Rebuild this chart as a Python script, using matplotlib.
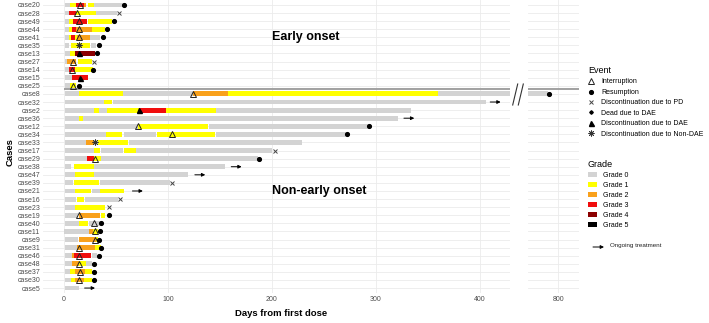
import matplotlib.pyplot as plt
from matplotlib.lines import Line2D
from matplotlib.patches import Patch

plt.rcParams['font.family'] = ['Liberation Sans', 'DejaVu Sans']

N = None  # gap in a bar

cases = ['case20', 'case28', 'case49', 'case44', 'case41', 'case35', 'case13', 'case27',
         'case14', 'case15', 'case25',
         'case8', 'case32', 'case2', 'case36', 'case12', 'case34', 'case33', 'case17',
         'case29', 'case38', 'case47', 'case39', 'case21', 'case16', 'case23', 'case19',
         'case40', 'case11', 'case9', 'case31', 'case46', 'case48', 'case37', 'case30', 'case5']

# segment boundaries (days) and the grade of each segment, one entry per case
bar_edges = [
    [1, 6, 12, 19, 21, 23, 29, 57],
    [1, 5, 12, 31, 51],
    [1, 5, 9, 22, 23, 46],
    [1, 5, 8, 12, 27, 40],
    [1, 5, 7, 11, 13, 25, 35],
    [1, 5, 7, 25, 26, 31],
    [1, 6, 11, 30],
    [1, 3, 12, 14, 27],
    [1, 5, 11, 28],
    [1, 8, 23],
    [1, 6, 12],
    [1, 15, 57, 124, 158, 360, 790],
    [1, 39, 46, 47, 406],
    [1, 29, 34, 42, 72, 98, 146, 334],
    [1, 15, 18, 321],
    [1, 71, 139, 140, 292],
    [1, 41, 56, 58, 89, 90, 145, 146, 271],
    [1, 21, 29, 33, 62, 63, 229],
    [1, 29, 35, 36, 57, 58, 69, 200],
    [1, 22, 29, 36, 187],
    [1, 7, 10, 29, 155],
    [1, 11, 29, 119],
    [1, 9, 10, 34, 35, 102],
    [1, 11, 26, 27, 35, 58],
    [1, 12, 13, 19, 20, 52],
    [1, 11, 40],
    [1, 14, 15, 35, 36, 40],
    [1, 15, 23, 24, 35],
    [0, 24, 28, 33],
    [1, 14, 15, 31, 33],
    [1, 13, 30, 36],
    [1, 8, 10, 26, 27, 32],
    [1, 8, 15, 21, 27],
    [1, 6, 11, 20, 27],
    [1, 7, 11, 19, 27],
    [1, 15],
]
bar_grades = [
    [0, 1, 3, 2, N, 1, 0],
    [0, 3, 1, 0],
    [0, 1, 3, N, 1],
    [0, 1, 3, 2, 1],
    [0, 1, 3, 1, 2, 0],
    [0, N, 1, N, 0],
    [0, 1, 4],
    [0, 2, N, 1],
    [0, 3, 1],
    [0, 3],
    [0, 1],
    [0, 1, 0, 2, 1, 0],
    [0, 1, N, 0],
    [0, 1, 0, 1, 3, 1, 0],
    [0, 1, 0],
    [0, 1, N, 0],
    [0, 1, N, 0, N, 1, N, 0],
    [0, 2, N, 1, N, 0],
    [0, 1, N, 0, N, 1, 0],
    [0, 3, 1, 0],
    [0, N, 1, 0],
    [0, 1, 0],
    [0, N, 1, N, 0],
    [0, 1, N, 0, 1],
    [0, N, 1, N, 0],
    [0, 1],
    [0, N, 2, N, 1],
    [0, 1, N, 0],
    [0, 2, 1],
    [0, N, 2, 1],
    [0, 2, 1],
    [0, 2, 3, N, 0],
    [0, 2, 1, 0],
    [0, 1, 2, 1],
    [0, 1, 2, 1],
    [0],
]

event_case = ['case20', 'case20', 'case28', 'case28', 'case49', 'case49', 'case44', 'case44',
              'case41', 'case41', 'case35', 'case35', 'case13', 'case13', 'case27', 'case27',
              'case14', 'case14', 'case15', 'case25', 'case25', 'case8', 'case8', 'case2',
              'case12', 'case12', 'case34', 'case34', 'case33', 'case17', 'case29', 'case29',
              'case39', 'case16', 'case23', 'case19', 'case19', 'case40', 'case40',
              'case11', 'case11', 'case9', 'case9', 'case31', 'case31', 'case46', 'case46',
              'case48', 'case48', 'case37', 'case37', 'case30', 'case30']
event_day = [16, 58, 13, 53, 15, 48, 15, 42,
             15, 38, 15, 34, 15, 32, 9, 29,
             8, 28, 16, 9, 15, 124, 791, 72,
             71, 293, 104, 272, 30, 203, 30, 188,
             104, 54, 43, 15, 43, 29, 36,
             30, 35, 30, 34, 15, 36, 15, 34,
             15, 29, 16, 29, 15, 29]
event_kind = ['int', 'res', 'int', 'pd', 'int', 'res', 'int', 'res',
              'int', 'res', 'ndae', 'res', 'dae', 'res', 'int', 'pd',
              'int', 'res', 'dae', 'int', 'res', 'int', 'res', 'dae',
              'int', 'res', 'int', 'res', 'ndae', 'pd', 'int', 'res',
              'pd', 'pd', 'pd', 'int', 'res', 'int', 'res',
              'int', 'res', 'int', 'res', 'int', 'res', 'int', 'res',
              'int', 'res', 'int', 'res', 'int', 'res']

ongoing_case = ['case32', 'case36', 'case38', 'case47', 'case21', 'case5']
ongoing_day = [410, 327, 161, 126, 66, 20]

grade_names = ['Grade 0', 'Grade 1', 'Grade 2', 'Grade 3', 'Grade 4', 'Grade 5']
grade_colors = ['#D3D3D3', '#FFFF00', '#F9A11B', '#F00D0D', '#8B0000', '#000000']

event_names = {'int': 'Interruption', 'res': 'Resumption', 'pd': 'Discontinuation due to PD',
               'dead': 'Dead due to DAE', 'dae': 'Discontinuation due to DAE',
               'ndae': 'Discontinuation due to Non-DAE'}
event_style = {
    'int': dict(marker='^', mfc='none', mec='#222222', ms=4.0, mew=0.7),
    'res': dict(marker='o', color='black', ms=2.7),
    'pd': dict(marker='x', color='#444444', ms=3.3, mew=0.7),
    'dead': dict(marker='D', color='black', ms=1.8),
    'dae': dict(marker='^', color='black', ms=3.6),
    'ndae': dict(marker=(8, 2, 0), color='#333333', ms=4.3, mew=0.6),
}

W, H = 709, 323
fig = plt.figure(figsize=(W / 100, H / 100), dpi=100)
top, bottom = 0.1, 292.9
ax = fig.add_axes([43 / W, (H - bottom) / H, (510 - 43) / W, (bottom - top) / H])
ax2 = fig.add_axes([528 / W, (H - bottom) / H, (579 - 528) / W, (bottom - top) / H])

row = {c: i for i, c in enumerate(cases)}
n = len(cases)

for a in (ax, ax2):
    for i, (edges, grades) in enumerate(zip(bar_edges, bar_grades)):
        for j, g in enumerate(grades):
            if g is None:
                continue
            a.barh(i, edges[j + 1] - edges[j], left=edges[j], height=0.6,
                   color=grade_colors[g], linewidth=0, zorder=2)
    for c, d, k in zip(event_case, event_day, event_kind):
        a.plot(d, row[c], linestyle='none', zorder=4, **event_style[k])
    a.hlines(10.45, 0, 1000, color='#9A9A9A', lw=1.3, zorder=3)
    a.set_ylim(n - 1 + 0.6, -0.6)
    a.set_yticks(range(n))
    a.grid(True, color='#EBEBEB', lw=0.6)
    a.set_axisbelow(True)
    for s in a.spines.values():
        s.set_visible(False)
    a.tick_params(length=0, labelsize=5, colors='#4D4D4D', pad=2)

for c, d in zip(ongoing_case, ongoing_day):
    ax.annotate('', xy=(d + 10, row[c]), xytext=(d, row[c]),
                arrowprops=dict(arrowstyle='-|>', color='black', lw=0.7,
                                mutation_scale=5, shrinkA=0, shrinkB=0))

ax.set_xlim(-20, 429)
ax.set_xticks([0, 100, 200, 300, 400])
ax.set_yticklabels(cases)
ax2.set_xlim(771, 820)
ax2.set_xticks([800])
ax2.set_yticklabels([])

ax.text(200, 4.0, 'Early onset', fontsize=9, fontweight='bold', va='center', ha='left')
ax.text(200, 23.0, 'Non-early onset', fontsize=9, fontweight='bold', va='center', ha='left')

fig.text(281 / W, 1 - 313 / H, 'Days from first dose', fontsize=6.8, fontweight='bold',
         ha='center', va='center')
fig.text(10 / W, 1 - 152 / H, 'Cases', fontsize=6.8, fontweight='bold', rotation=90,
         ha='center', va='center')

# axis break marks
for dx in (0, 5.6):
    fig.add_artist(Line2D([(512.7 + dx) / W, (517.7 + dx) / W], [1 - 105 / H, 1 - 84 / H],
                          color='#333333', lw=0.8))

ev_handles = [Line2D([], [], linestyle='none', **event_style[k]) for k in event_names]
fig.legend(ev_handles, list(event_names.values()), title='Event',
           loc='upper left', bbox_to_anchor=(588 / W, 1 - 66 / H), frameon=False,
           fontsize=5, title_fontsize=6.5, handlelength=1.0, handletextpad=0.9,
           labelspacing=0.5, borderaxespad=0, borderpad=0, alignment='left')

gr_handles = [Patch(facecolor=col, edgecolor='none') for col in grade_colors]
fig.legend(gr_handles, grade_names, title='Grade',
           loc='upper left', bbox_to_anchor=(588 / W, 1 - 160 / H), frameon=False,
           fontsize=5, title_fontsize=6.5, handlelength=1.3, handleheight=0.8,
           handletextpad=0.9, labelspacing=0.42, borderaxespad=0, borderpad=0,
           alignment='left')

# ongoing treatment key
fig.add_artist(plt.Annotation('', xy=(604 / W, 1 - 247 / H), xytext=(593 / W, 1 - 247 / H),
                              xycoords='figure fraction', textcoords='figure fraction',
                              arrowprops=dict(arrowstyle='-|>', color='black', lw=0.7,
                                              mutation_scale=5, shrinkA=0, shrinkB=0)))
fig.text(610 / W, 1 - 246 / H, 'Ongoing treatment', fontsize=4.5, color='#222222',
         ha='left', va='center')

fig.savefig('out.png', dpi=100)
